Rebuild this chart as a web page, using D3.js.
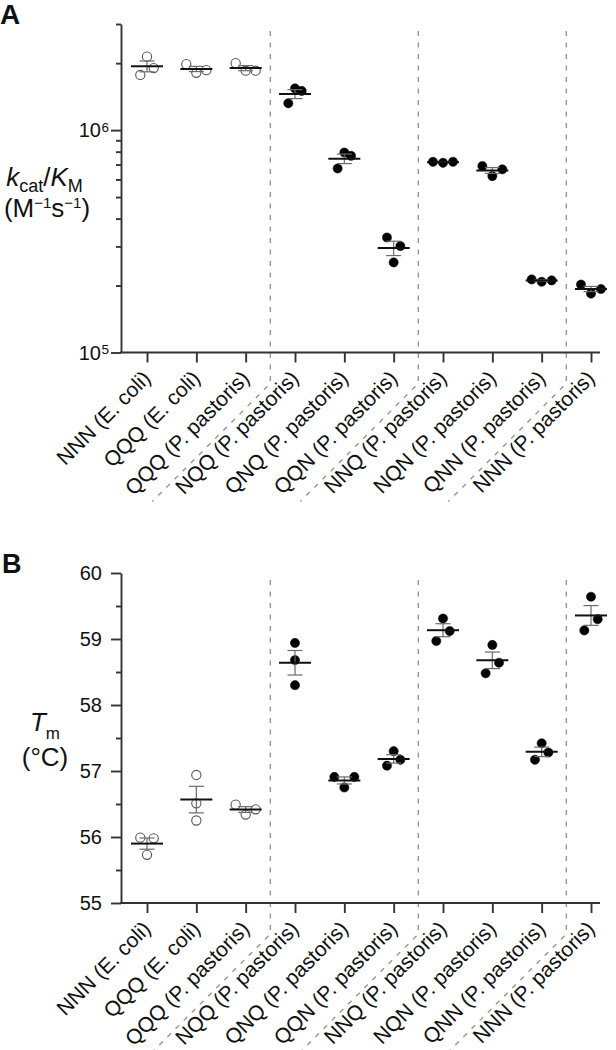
<!DOCTYPE html>
<html><head><meta charset="utf-8">
<script src="https://cdn.jsdelivr.net/npm/d3@7"></script>
<style>
body{margin:0;background:#fff}
svg{display:block}
text{font-family:"Liberation Sans",Arial,Helvetica,sans-serif;fill:#111}
</style>
</head><body>
<svg id="c" width="616" height="1050"></svg>
<script>
// ---------- DATA ----------
const constructs = ["NNN","QQQ","QQQ","NQQ","QNQ","QQN","NNQ","NQN","QNN","NNN"];
const hosts = ["E. coli","E. coli","P. pastoris","P. pastoris","P. pastoris","P. pastoris","P. pastoris","P. pastoris","P. pastoris","P. pastoris"];
const openMarker = [true,true,true,false,false,false,false,false,false,false];
const groupBreaksAfter = [2,5,8];

// kcat/KM (M^-1 s^-1), three replicates each
const kcatKm = [
  [2.14e6, 1.90e6, 1.77e6],
  [1.98e6, 1.86e6, 1.81e6],
  [2.00e6, 1.85e6, 1.85e6],
  [1.54e6, 1.50e6, 1.32e6],
  [7.93e5, 7.66e5, 6.72e5],
  [3.29e5, 3.01e5, 2.54e5],
  [7.20e5, 7.13e5, 7.20e5],
  [6.89e5, 6.21e5, 6.66e5],
  [2.13e5, 2.08e5, 2.11e5],
  [2.02e5, 1.84e5, 1.93e5]
];
// Tm (°C), three replicates each
const tm = [
  [55.99, 55.98, 55.73],
  [56.94, 56.51, 56.25],
  [56.49, 56.34, 56.42],
  [58.94, 58.68, 58.30],
  [56.91, 56.91, 56.75],
  [57.30, 57.17, 57.08],
  [59.31, 59.12, 58.97],
  [58.91, 58.64, 58.48],
  [57.42, 57.28, 57.17],
  [59.64, 59.30, 59.13]
];

const kMajorTicks = [1e5, 1e6];
const kMajorLabels = [["10","5"],["10","6"]];
const kMinorTicks = [2e5,3e5,4e5,5e5,6e5,7e5,8e5,9e5,2e6,3e6];
const tmMajorTicks = [55,56,57,58,59,60];
const tmMinorTicks = [55.5,56.5,57.5,58.5,59.5];

// ---------- LAYOUT ----------
const svg = d3.select("#c");
const axisColor = "#333";
const x = d3.scalePoint().domain(d3.range(constructs.length)).range([147, 591]);
const axisLeftX = 121, axisRightX = 600;

function swarmOffsets(ys){
  // Prism-like scatter: spread overlapping replicates horizontally
  const idx = ys.map((y,i)=>i).sort((a,b)=>ys[a]-ys[b]);
  const s = idx.map(i=>ys[i]);
  const off = [0,0,0];
  const g1 = s[1]-s[0], g2 = s[2]-s[1], span = s[2]-s[0];
  let o;
  if (span <= 12) o = [-10, 10, 0];
  else if (g1 >= 14 && g2 >= 14) o = [0,0,0];
  else if (g2 >= 14) o = [-6.7, 6.7, 0];
  else o = [0, 6.7, -6.7];
  idx.forEach((i,k)=>off[i]=o[k]);
  return off;
}

function drawPanel(cfg){
  const g = svg.append("g");
  const y = cfg.y;
  const [yBot, yTop] = y.range();

  // dashed separators
  groupBreaksAfter.forEach(d=>{
    const xm = (x(d)+x(d+1))/2;
    g.append("path")
      .attr("d", `M${xm},${yTop+7} L${xm},${yBot+31} L${xm-118},${yBot+149}`)
      .attr("fill","none").attr("stroke","#969696").attr("stroke-width",1.4)
      .attr("stroke-dasharray","5,6.5");
  });

  // y axis
  const yMajor = g.append("g").attr("transform",`translate(${axisLeftX},0)`)
    .call(d3.axisLeft(y).tickValues(cfg.major).tickSize(10).tickSizeOuter(0).tickFormat(""));
  const yMinor = g.append("g").attr("transform",`translate(${axisLeftX},0)`)
    .call(d3.axisLeft(y).tickValues(cfg.minor).tickSize(5).tickSizeOuter(0).tickFormat(""));
  [yMajor,yMinor].forEach(a=>{
    a.selectAll("path,line").attr("stroke",axisColor).attr("stroke-width",1.9);
  });
  yMinor.select(".domain").remove();

  // y tick labels
  cfg.major.forEach((v,i)=>{
    const yy = y(v);
    if (cfg.sup){
      g.append("text").attr("x",101).attr("y",yy+7).attr("text-anchor","end")
        .attr("font-size",20).text(cfg.labels[i][0]);
      g.append("text").attr("x",101.5).attr("y",yy+1.5).attr("text-anchor","start")
        .attr("font-size",13.5).text(cfg.labels[i][1]);
    } else {
      g.append("text").attr("x",102).attr("y",yy+7).attr("text-anchor","end")
        .attr("font-size",20).text(v);
    }
  });

  // x axis
  const xa = g.append("g").attr("transform",`translate(0,${yBot})`)
    .call(d3.axisBottom(x).tickSize(10).tickSizeOuter(0).tickFormat(""));
  xa.select(".domain").remove();
  xa.selectAll("line").attr("stroke",axisColor).attr("stroke-width",1.9);
  g.append("line").attr("x1",axisLeftX-1).attr("x2",axisRightX)
    .attr("y1",yBot).attr("y2",yBot).attr("stroke",axisColor).attr("stroke-width",1.9);

  // category labels
  constructs.forEach((c,i)=>{
    g.append("text")
      .attr("transform",`translate(${x(i)+5},${yBot+27}) rotate(-45)`)
      .attr("text-anchor","end").attr("font-size",21)
      .text(`${c} (${hosts[i]})`);
  });

  // points
  cfg.values.forEach((vals,i)=>{
    const ys = vals.map(v=>y(v));
    const off = swarmOffsets(ys);
    vals.forEach((v,k)=>{
      g.append("circle").attr("cx",x(i)+off[k]).attr("cy",ys[k]).attr("r",4.6)
        .attr("fill",openMarker[i]?"#fff":"#000")
        .attr("stroke",openMarker[i]?"#555":"#000")
        .attr("stroke-width",openMarker[i]?1.1:0.5);
    });
    const m = d3.mean(vals);
    const sem = d3.deviation(vals)/Math.sqrt(vals.length);
    const cx = x(i);
    const eb = g.append("g").attr("stroke","#6a6a6a").attr("stroke-width",1.2);
    eb.append("line").attr("x1",cx).attr("x2",cx).attr("y1",y(m-sem)).attr("y2",y(m+sem));
    eb.append("line").attr("x1",cx-7.5).attr("x2",cx+7.5).attr("y1",y(m-sem)).attr("y2",y(m-sem));
    eb.append("line").attr("x1",cx-7.5).attr("x2",cx+7.5).attr("y1",y(m+sem)).attr("y2",y(m+sem));
    g.append("line").attr("x1",cx-16).attr("x2",cx+16).attr("y1",y(m)).attr("y2",y(m))
      .attr("stroke","#111").attr("stroke-width",2);
  });
  return g;
}

// Panel A
const yA = d3.scaleLog().domain([1e5, 3e6]).range([352.5, 24]);
drawPanel({y:yA, values:kcatKm, major:kMajorTicks, minor:kMinorTicks, sup:true, labels:kMajorLabels});
// Panel B
const yB = d3.scaleLinear().domain([55, 60]).range([903, 573]);
drawPanel({y:yB, values:tm, major:tmMajorTicks, minor:tmMinorTicks, sup:false});

// panel letters
svg.append("text").attr("x",0).attr("y",24).attr("font-size",28).attr("font-weight","bold").text("A");
svg.append("text").attr("x",2).attr("y",573).attr("font-size",27).attr("font-weight","bold").text("B");

// y axis titles
const tA1 = svg.append("text").attr("x",44.5).attr("y",186).attr("text-anchor","middle").attr("font-size",26);
tA1.append("tspan").attr("font-style","italic").text("k");
tA1.append("tspan").attr("font-size",18).attr("dy",6).text("cat");
tA1.append("tspan").attr("dy",-6).text("/");
tA1.append("tspan").attr("font-style","italic").text("K");
tA1.append("tspan").attr("font-size",18).attr("dy",6).text("M");
const tA2 = svg.append("text").attr("x",47).attr("y",217).attr("text-anchor","middle").attr("font-size",26);
tA2.append("tspan").text("(M");
tA2.append("tspan").attr("font-size",15).attr("dy",-9).text("\u22121");
tA2.append("tspan").attr("dy",9).text("s");
tA2.append("tspan").attr("font-size",15).attr("dy",-9).text("\u22121");
tA2.append("tspan").attr("dy",9).text(")");

const tB1 = svg.append("text").attr("x",45).attr("y",731).attr("text-anchor","middle").attr("font-size",26);
tB1.append("tspan").attr("font-style","italic").text("T");
tB1.append("tspan").attr("font-size",17).attr("dy",8).text("m");
svg.append("text").attr("x",45).attr("y",766).attr("text-anchor","middle").attr("font-size",26).text("(\u00B0C)");
</script>
</body></html>
